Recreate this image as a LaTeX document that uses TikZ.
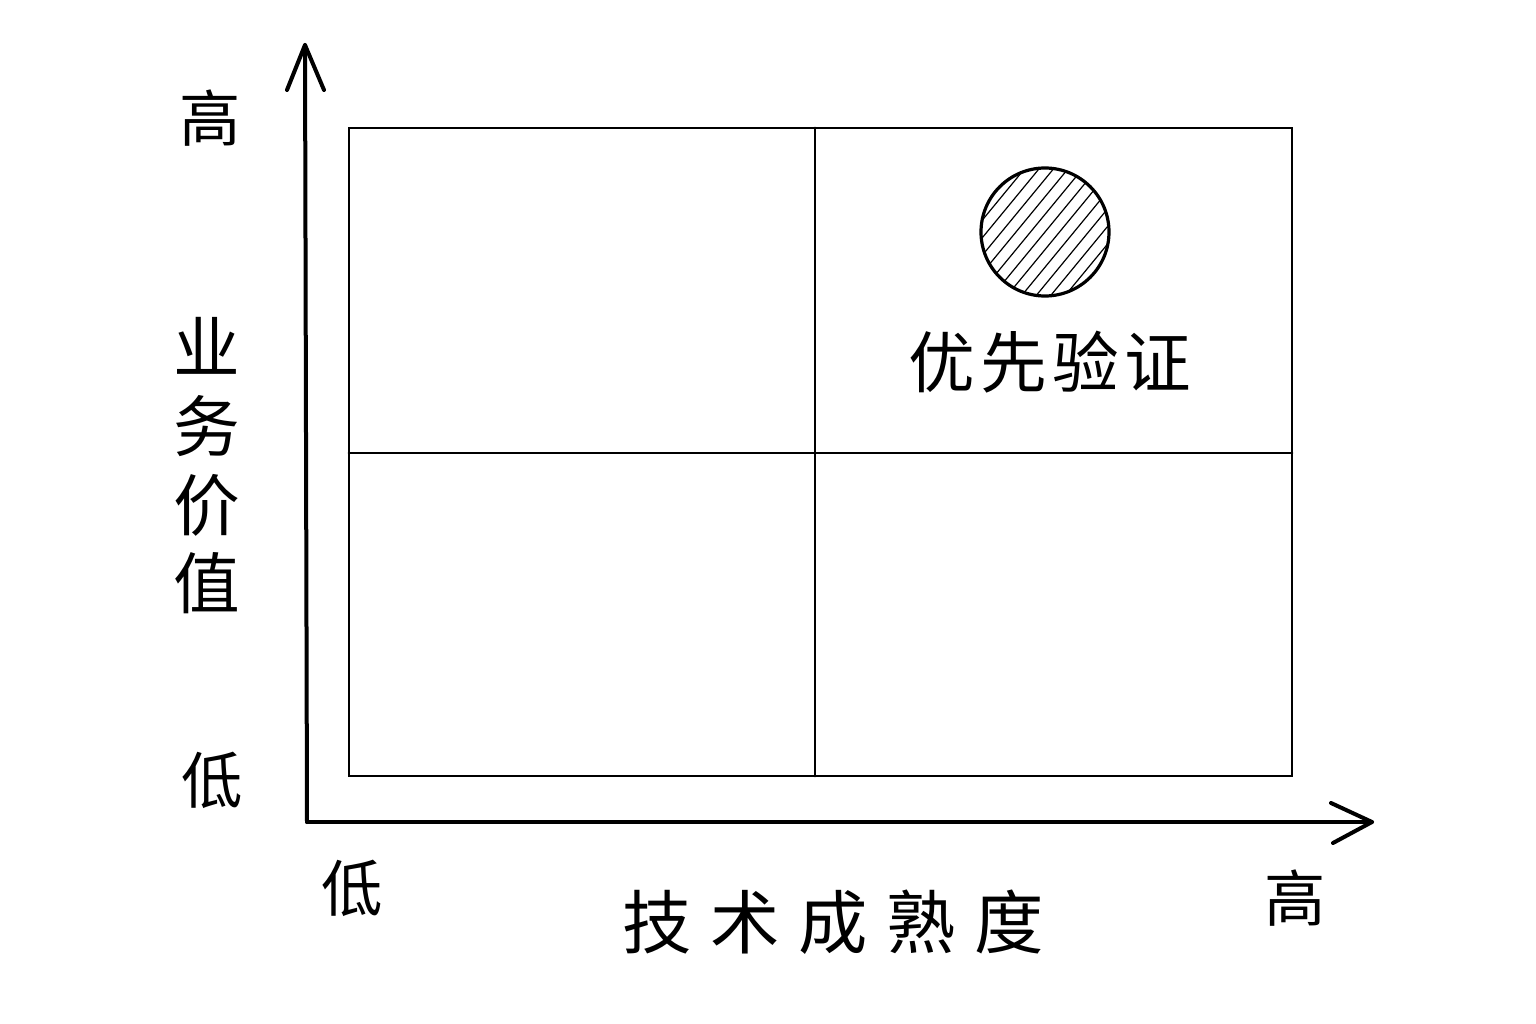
\documentclass[tikz,border=0pt]{standalone}
\usepackage{fontspec}
\setmainfont{Noto Sans CJK SC}
\newfontfamily\cjk{Noto Sans CJK SC}
\tikzset{
  axis/.style={line width=3pt, line cap=round, line join=round},
  grid/.style={line width=2.1pt, line cap=round},
  lbl/.style={font=\cjk\fontsize{46pt}{56pt}\selectfont, inner sep=0pt},
  bigl/.style={font=\cjk\fontsize{52pt}{60pt}\selectfont, inner sep=0pt},
}
\begin{document}
\begin{tikzpicture}[x=0.75pt,y=-0.75pt]
\useasboundingbox (0,0) rectangle (1536,1024);
% axes
\coordinate (O) at (307,822);
\coordinate (Ytip) at (305,45);
\coordinate (Xtip) at (1372,822);
\draw[axis] (O) -- (Ytip);
\draw[axis] (287,90) -- (Ytip) -- (324,90);
\draw[axis] (O) -- (Xtip);
\draw[axis] (1331,803) -- (Xtip) -- (1333,843);
% grid
\node[draw, grid, minimum width=943*0.75pt, minimum height=648*0.75pt, inner sep=0pt] (box) at (820.5,452) {};
\coordinate (tm) at (815,128);
\coordinate (bm) at (815,776);
\coordinate (lm) at (349,453);
\coordinate (rm) at (1292,453);
\draw[grid] (tm) -- (bm);
\draw[grid] (lm) -- (rm);
% circle with hatching
\node[circle, minimum size=128*0.75pt, inner sep=0pt] (dot) at (1045,232) {};
\begin{scope}
\clip (1045,232) circle[radius=64];
\foreach \i in {-9,...,9} {
  \draw[line width=0.9pt] (1045+\i*14.5-70,232+85) -- (1045+\i*14.5+70,232-85);
}
\end{scope}
\draw[line width=2.4pt] (1045,232) circle[radius=64];
% labels
\node[lbl] (yhi) at (210,118) {高};
\node[lbl, align=center, font=\cjk\fontsize{50pt}{59pt}\selectfont] (ylab) at (207,466) {业\\务\\价\\值};
\node[lbl] (ylo) at (212,780) {低};
\node[lbl] (xlo) at (352,888) {低};
\node[bigl] (xlab) at (833,922) {技\kern14pt 术\kern14pt 成\kern14pt 熟\kern14pt 度};
\node[lbl] (xhi) at (1295,898) {高};
\node[bigl, font=\cjk\fontsize{50pt}{56pt}\selectfont] (prio) at (1050,362) {优\kern4pt 先\kern4pt 验\kern4pt 证};
\end{tikzpicture}
\end{document}
